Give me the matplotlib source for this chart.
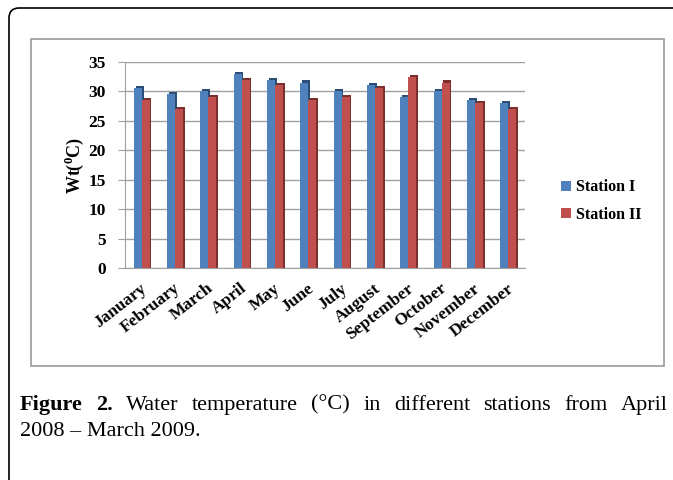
import numpy as np
import matplotlib.pyplot as plt
from matplotlib.patches import Rectangle, FancyBboxPatch

months = ['January', 'February', 'March', 'April', 'May', 'June', 'July',
          'August', 'September', 'October', 'November', 'December']
station_1 = [30.5, 29.5, 30, 33, 32, 31.5, 30, 31, 29, 30, 28.5, 28]
station_2 = [28.5, 27, 29, 32, 31, 28.5, 29, 30.5, 32.5, 31.5, 28, 27]
yticks = [0, 5, 10, 15, 20, 25, 30, 35]

plt.rcParams['font.family'] = ['Liberation Serif', 'DejaVu Serif']
plt.rcParams['mathtext.fontset'] = 'custom'
plt.rcParams['mathtext.rm'] = 'Liberation Serif:bold'

fig = plt.figure(figsize=(6.73, 4.8), dpi=100)

# outer frame with rounded top-left corner (right/bottom run off the page)
frame = FancyBboxPatch((0.09, -0.5), 7.0, 5.22,
                       boxstyle='round,pad=0,rounding_size=0.1',
                       transform=fig.dpi_scale_trans, fill=False,
                       edgecolor='black', linewidth=1.2)
fig.patches.append(frame)

# inner chart box
fig.patches.append(Rectangle((0.046, 0.2375), 0.941, 0.6815, transform=fig.transFigure,
                             fill=False, edgecolor='#9a9a9a', linewidth=1.2))

ax = fig.add_axes([0.186, 0.4417, 0.594, 0.4293])
x = np.arange(len(months))
w = 0.24
blue, blue_dark = '#4f81bd', '#2c4d75'
red, red_dark = '#c0504d', '#7d2f2d'

# darker side faces give a little 3D look
ax.bar(x - w / 2 + 0.05, np.array(station_1) + 0.35, w, color=blue_dark, zorder=2)
ax.bar(x - w / 2, station_1, w, color=blue, zorder=3, label='Station I')
ax.bar(x + w / 2 + 0.05, np.array(station_2) + 0.35, w, color=red_dark, zorder=2)
ax.bar(x + w / 2, station_2, w, color=red, zorder=3, label='Station II')

ax.set_xlim(-0.5, len(months) - 0.5)
ax.set_ylim(0, 35)
ax.set_yticks(yticks)
ax.yaxis.grid(True, color='#a0a0a0', linewidth=1.0, zorder=0)
ax.set_axisbelow(True)
for s in ['top', 'right']:
    ax.spines[s].set_visible(False)
ax.spines['left'].set_color('#a0a0a0')
ax.spines['bottom'].set_color('#a0a0a0')
ax.tick_params(axis='y', length=5, color='#a0a0a0', labelsize=12.5, pad=9)
ax.tick_params(axis='x', length=0, labelsize=12.5, pad=9)
for lab in ax.get_yticklabels():
    lab.set_fontweight('bold')
ax.set_xticks(x - 0.05)
ax.set_xticklabels(months, rotation=38, ha='right', rotation_mode='anchor', fontweight='bold')
ax.set_ylabel(r'Wt($^{0}$C)', fontsize=13, fontweight='bold', labelpad=2)

ax.legend(loc='center left', bbox_to_anchor=(1.055, 0.325), frameon=False,
          prop={'weight': 'bold', 'size': 11.5}, handlelength=0.6, handleheight=0.6,
          handletextpad=0.3, labelspacing=0.7)

# caption, first line justified between the margins
cap_size = 16
words = ['Figure', '2.', 'Water', 'temperature', '(°C)', 'in', 'different',
         'stations', 'from', 'April']
left_px, right_px = 20, 668
y1, y2 = 0.156, 0.1
texts = []
for i, wd in enumerate(words):
    texts.append(fig.text(0, y1, wd, fontsize=cap_size, va='center',
                          fontweight='bold' if i < 2 else 'normal'))
fig.canvas.draw()
r = fig.canvas.get_renderer()
widths = [t.get_window_extent(r).width for t in texts]
gap = (right_px - left_px - sum(widths)) / (len(words) - 1)
pos = left_px
for t, wd in zip(texts, widths):
    t.set_x(pos / fig.bbox.width)
    pos += wd + gap
fig.text(left_px / fig.bbox.width, y2, '2008 – March 2009.', fontsize=cap_size, va='center')

fig.savefig('out.png', dpi=100)
